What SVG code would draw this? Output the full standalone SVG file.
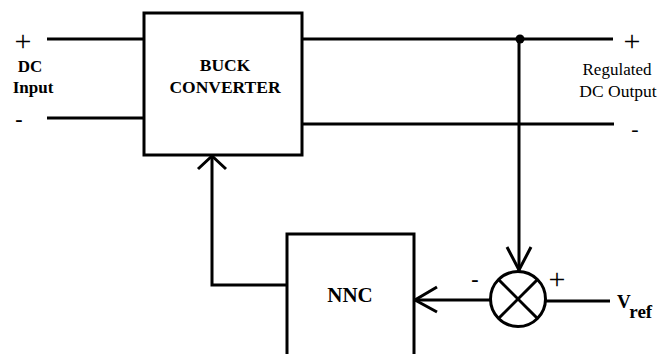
<svg xmlns="http://www.w3.org/2000/svg" width="662" height="354" viewBox="0 0 662 354">
<style>
.ln{stroke:#000;stroke-width:3;fill:none}
.bx{stroke:#000;stroke-width:3;fill:#fff}
text{font-family:"Liberation Serif",serif;fill:#000}
.b{font-weight:700}
.pm{font-size:30px;font-weight:400}
</style>
<rect width="662" height="354" fill="#fff"/>
<g id="connectors">
<line class="ln" x1="47" y1="39" x2="144" y2="39"/>
<line class="ln" x1="47" y1="118" x2="144" y2="118"/>
<line class="ln" x1="302" y1="39" x2="613" y2="39"/>
<line class="ln" x1="302" y1="124" x2="614" y2="124"/>
<circle cx="520" cy="39" r="4.5" fill="#000"/>
<line class="ln" x1="519" y1="39" x2="519" y2="271"/>
<polyline class="ln" points="507,247 519,270 531,247"/>
<line class="ln" x1="490" y1="300" x2="415" y2="300"/>
<polyline class="ln" points="437,287 415,300 437,312"/>
<line class="ln" x1="546" y1="301" x2="610" y2="301"/>
<polyline class="ln" points="287,285 212,285 212,157"/>
<polyline class="ln" points="198,169 212,156 226,169"/>
</g>
<g id="buck">
<rect class="bx" x="144" y="13" width="158" height="142"/>
<text class="b" x="225" y="71" font-size="17.5" text-anchor="middle">BUCK</text>
<text class="b" x="225" y="93" font-size="17.5" text-anchor="middle">CONVERTER</text>
</g>
<g id="nnc">
<rect class="bx" x="287" y="234" width="127" height="130"/>
<text class="b" x="350" y="302" font-size="21" text-anchor="middle">NNC</text>
</g>
<g id="sum">
<circle class="ln" cx="518" cy="299" r="27.5"/>
<line class="ln" x1="498.5" y1="279.5" x2="537.5" y2="318.5"/>
<line class="ln" x1="537.5" y1="279.5" x2="498.5" y2="318.5"/>
</g>
<g id="labels">
<text class="pm" x="23" y="51" text-anchor="middle">+</text>
<text class="b" x="30" y="72" font-size="17" text-anchor="middle">DC</text>
<text class="b" x="33" y="93" font-size="17" text-anchor="middle">Input</text>
<text class="b" x="19" y="126" font-size="22" text-anchor="middle">-</text>
<text class="pm" x="632" y="51" text-anchor="middle">+</text>
<text x="617" y="75" font-size="17" text-anchor="middle">Regulated</text>
<text x="618" y="97" font-size="17.5" text-anchor="middle">DC Output</text>
<text x="635" y="136" font-size="22" text-anchor="middle">-</text>
<text class="pm" x="557" y="289" text-anchor="middle">+</text>
<text class="b" x="475" y="286" font-size="22" text-anchor="middle">-</text>
<text class="b" x="617" y="308" font-size="19">V<tspan dy="10">ref</tspan></text>
</g>
</svg>
